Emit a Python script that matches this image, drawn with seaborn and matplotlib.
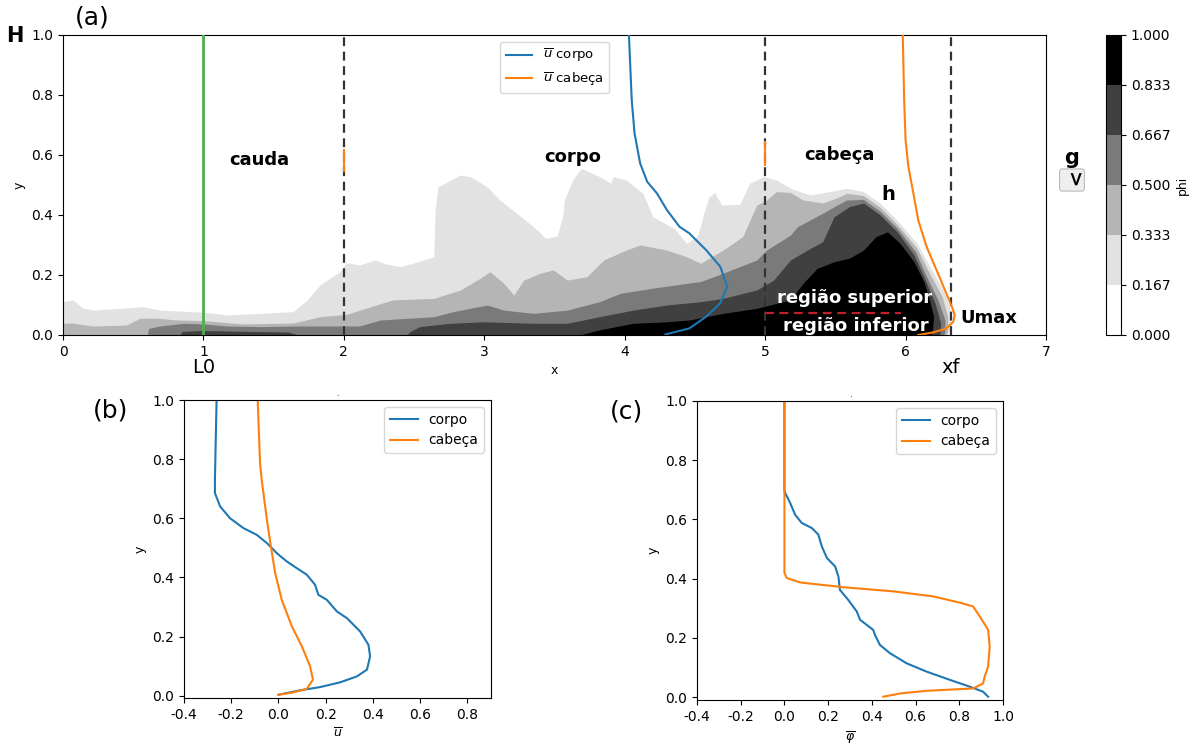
import numpy as np
import matplotlib
matplotlib.use("Agg")
import matplotlib.pyplot as plt
import matplotlib.ticker as mticker
from matplotlib.colors import ListedColormap, BoundaryNorm
from matplotlib.cm import ScalarMappable
import seaborn as sns

# ---------------- data ----------------
phi_levels = [0.0, 1/6, 2/6, 3/6, 4/6, 5/6, 1.0]

# contour boundaries (height of each phi level vs x) in panel (a)
lvl1_x = [0.0, 0.07, 0.14, 0.22, 0.57, 0.69, 1.0, 1.17, 1.40, 1.64, 1.74, 1.83, 1.97, 2.02, 2.11, 2.22, 2.30,
          2.40, 2.49, 2.64, 2.65, 2.67, 2.83, 2.90, 3.02, 3.11, 3.23, 3.35, 3.44, 3.52, 3.56, 3.57, 3.63, 3.69,
          3.82, 3.90, 3.92, 4.01, 4.13, 4.20, 4.35, 4.44, 4.52, 4.56, 4.60, 4.64, 4.69, 4.82, 4.89, 4.99, 5.08,
          5.18, 5.32, 5.46, 5.58, 5.70, 5.82, 5.94, 6.08, 6.20, 6.28, 6.32, 6.32, 6.30]
lvl1_y = [0.111, 0.117, 0.09, 0.083, 0.094, 0.083, 0.076, 0.067, 0.072, 0.078, 0.117, 0.167, 0.211, 0.241, 0.233,
          0.25, 0.237, 0.228, 0.239, 0.261, 0.417, 0.494, 0.533, 0.528, 0.494, 0.45, 0.406, 0.361, 0.322, 0.33,
          0.40, 0.45, 0.517, 0.556, 0.528, 0.506, 0.528, 0.517, 0.472, 0.394, 0.356, 0.306, 0.33, 0.40, 0.46,
          0.475, 0.433, 0.436, 0.506, 0.528, 0.517, 0.489, 0.467, 0.478, 0.489, 0.478, 0.439, 0.383, 0.306,
          0.206, 0.139, 0.083, 0.028, 0.0]

lvl2_x = [0.0, 0.07, 0.21, 0.45, 0.55, 0.67, 0.81, 1.0, 1.28, 1.64, 1.83, 2.02, 2.23, 2.35, 2.47, 2.64, 2.83,
          2.97, 3.04, 3.14, 3.21, 3.28, 3.40, 3.49, 3.59, 3.73, 3.85, 4.01, 4.11, 4.30, 4.44, 4.54, 4.70, 4.84,
          4.94, 5.01, 5.08, 5.18, 5.27, 5.41, 5.50, 5.58, 5.70, 5.82, 5.94, 6.08, 6.17, 6.26, 6.30, 6.30, 6.29]
lvl2_y = [0.039, 0.04, 0.03, 0.033, 0.056, 0.056, 0.05, 0.048, 0.037, 0.04, 0.061, 0.069, 0.10, 0.117, 0.119,
          0.122, 0.15, 0.189, 0.211, 0.172, 0.133, 0.183, 0.206, 0.217, 0.183, 0.194, 0.25, 0.283, 0.30, 0.283,
          0.261, 0.239, 0.283, 0.328, 0.433, 0.45, 0.478, 0.475, 0.45, 0.44, 0.455, 0.472, 0.465, 0.425, 0.368,
          0.29, 0.206, 0.128, 0.061, 0.017, 0.0]

lvl3_x = [0.60, 0.61, 0.69, 0.86, 1.0, 1.17, 1.40, 1.64, 1.88, 2.11, 2.26, 2.47, 2.64, 2.78, 3.02, 3.14, 3.35,
          3.59, 3.82, 3.97, 4.20, 4.44, 4.54, 4.70, 4.94, 5.01, 5.18, 5.23, 5.41, 5.50, 5.58, 5.70, 5.82, 5.94,
          6.07, 6.15, 6.23, 6.28, 6.28, 6.27]
lvl3_y = [0.0, 0.022, 0.03, 0.039, 0.037, 0.03, 0.028, 0.03, 0.03, 0.03, 0.05, 0.056, 0.061, 0.078, 0.10, 0.083,
          0.072, 0.083, 0.111, 0.139, 0.156, 0.172, 0.178, 0.206, 0.25, 0.283, 0.333, 0.361, 0.406, 0.43, 0.45,
          0.452, 0.412, 0.356, 0.278, 0.194, 0.117, 0.05, 0.011, 0.0]

lvl4_x = [0.83, 0.85, 1.0, 1.30, 1.60, 1.68, 2.45, 2.47, 2.54, 2.76, 2.99, 3.35, 3.59, 3.82, 4.06, 4.30, 4.54,
          4.70, 4.94, 5.06, 5.18, 5.30, 5.41, 5.49, 5.60, 5.70, 5.82, 5.94, 6.06, 6.14, 6.21, 6.25, 6.245]
lvl4_y = [0.0, 0.012, 0.015, 0.012, 0.01, 0.0, 0.0, 0.011, 0.028, 0.039, 0.044, 0.039, 0.039, 0.061, 0.083, 0.10,
          0.111, 0.122, 0.15, 0.183, 0.25, 0.283, 0.311, 0.394, 0.428, 0.44, 0.40, 0.344, 0.267, 0.183, 0.106,
          0.039, 0.0]

lvl5_x = [3.68, 3.82, 4.06, 4.30, 4.46, 4.70, 4.94, 5.18, 5.27, 5.37, 5.49, 5.60, 5.70, 5.79, 5.87, 5.96, 6.06,
          6.13, 6.17, 6.20, 6.19, 6.18]
lvl5_y = [0.0, 0.017, 0.039, 0.044, 0.05, 0.072, 0.089, 0.117, 0.172, 0.222, 0.244, 0.256, 0.283, 0.328, 0.344,
          0.306, 0.244, 0.178, 0.117, 0.061, 0.011, 0.0]

# mean velocity profiles drawn over panel (a)
a_corpo_x = [4.03, 4.05, 4.07, 4.11, 4.16, 4.23, 4.30, 4.39, 4.46, 4.58, 4.68, 4.73, 4.68, 4.58, 4.46, 4.29]
a_corpo_y = [1.0, 0.783, 0.672, 0.572, 0.511, 0.472, 0.417, 0.361, 0.339, 0.283, 0.228, 0.161, 0.106, 0.061,
             0.022, 0.002]
a_cabeca_x = [5.98, 5.99, 6.00, 6.02, 6.06, 6.09, 6.15, 6.22, 6.29, 6.33, 6.35, 6.34, 6.29, 6.20, 6.09]
a_cabeca_y = [1.0, 0.783, 0.65, 0.561, 0.461, 0.383, 0.294, 0.217, 0.139, 0.094, 0.067, 0.044, 0.022, 0.009, 0.0]

# panel (b): mean velocity
b_corpo_u = [-0.262, -0.266, -0.269, -0.269, -0.247, -0.205, -0.149, -0.092, -0.049, -0.007, 0.035, 0.078, 0.12,
             0.155, 0.169, 0.205, 0.247, 0.29, 0.346, 0.381, 0.388, 0.375, 0.332, 0.261, 0.177, 0.092, 0.0]
b_corpo_y = [1.0, 0.85, 0.73, 0.685, 0.64, 0.60, 0.567, 0.544, 0.516, 0.482, 0.454, 0.431, 0.409, 0.375, 0.341,
             0.324, 0.285, 0.262, 0.217, 0.172, 0.133, 0.088, 0.065, 0.045, 0.029, 0.018, 0.003]
b_cabeca_u = [-0.088, -0.078, -0.071, -0.049, -0.032, -0.014, 0.014, 0.057, 0.099, 0.134, 0.146, 0.12, 0.063, 0.0]
b_cabeca_y = [1.0, 0.786, 0.73, 0.595, 0.504, 0.415, 0.324, 0.234, 0.167, 0.099, 0.054, 0.023, 0.011, 0.003]

# panel (c): mean concentration
c_corpo_phi = [0.0, 0.0, 0.003, 0.026, 0.049, 0.079, 0.125, 0.155, 0.171, 0.194, 0.232, 0.247, 0.254, 0.292,
               0.331, 0.346, 0.406, 0.414, 0.437, 0.483, 0.559, 0.65, 0.757, 0.848, 0.909, 0.932]
c_corpo_y = [1.0, 0.70, 0.69, 0.656, 0.616, 0.588, 0.571, 0.549, 0.509, 0.47, 0.441, 0.407, 0.362, 0.328, 0.289,
             0.261, 0.227, 0.21, 0.176, 0.148, 0.114, 0.086, 0.058, 0.035, 0.018, 0.001]
c_cabeca_phi = [0.0, 0.0, 0.011, 0.072, 0.269, 0.498, 0.68, 0.802, 0.863, 0.894, 0.932, 0.939, 0.932, 0.916,
                0.909, 0.863, 0.65, 0.528, 0.452]
c_cabeca_y = [1.0, 0.419, 0.402, 0.387, 0.371, 0.357, 0.34, 0.319, 0.306, 0.272, 0.227, 0.17, 0.103, 0.069,
              0.046, 0.029, 0.021, 0.012, 0.001]

# ---------------- figure ----------------
W, H = 1194, 744
fig = plt.figure(figsize=(W / 100, H / 100), dpi=100)
blue, orange = "#1f77b4", "#ff7f0e"

axA = fig.add_axes([63 / W, 1 - 335 / H, 983 / W, 300 / H])
cax = fig.add_axes([1106 / W, 1 - 335 / H, 15 / W, 300 / H])
axB = fig.add_axes([184 / W, 1 - 698 / H, 307 / W, 298 / H])
axC = fig.add_axes([697 / W, 1 - 700 / H, 306 / W, 299 / H])

band_colors = plt.get_cmap("Greys")(np.linspace(0, 1, 6))
cmap = ListedColormap(band_colors)
norm = BoundaryNorm(phi_levels, cmap.N)

for k, (lx, ly) in enumerate([(lvl1_x, lvl1_y), (lvl2_x, lvl2_y), (lvl3_x, lvl3_y),
                              (lvl4_x, lvl4_y), (lvl5_x, lvl5_y)]):
    axA.fill_between(lx, 0, ly, color=band_colors[k + 1], linewidth=0, zorder=1)

axA.axvline(1, color="#4daf4a", lw=2, zorder=3)
for xv in (2, 5, 6.32):
    axA.axvline(xv, color="#333333", lw=1.6, ls=(0, (4, 2.5)), zorder=3)
axA.plot([2, 2], [0.545, 0.617], color=orange, lw=1.5, zorder=3)
axA.plot([5, 5], [0.567, 0.644], color=orange, lw=1.5, zorder=3)
axA.plot([5.0, 5.97], [0.073, 0.073], color="#c0202a", lw=1.6, ls=(0, (4, 2.5)), zorder=4)

sns.lineplot(x=a_corpo_x, y=a_corpo_y, sort=False, estimator=None, color=blue, lw=1.5,
             label=r"$\overline{u}$ corpo", ax=axA, zorder=5)
sns.lineplot(x=a_cabeca_x, y=a_cabeca_y, sort=False, estimator=None, color=orange, lw=1.5,
             label=r"$\overline{u}$ cabeça", ax=axA, zorder=5)
axA.legend(loc="upper center", fontsize=9.5)

axA.set_xlim(0, 7)
axA.set_ylim(0, 1)
axA.set_xticks(range(0, 8))
axA.set_yticks(np.arange(0, 1.01, 0.2))
axA.set_xlabel("x", fontsize=9)
axA.set_ylabel("y", fontsize=9)

bold = dict(fontweight="bold", fontsize=13, ha="center", va="center")
axA.text(1.40, 0.583, "cauda", **bold)
axA.text(3.63, 0.593, "corpo", **bold)
axA.text(5.53, 0.60, "cabeça", **bold)
axA.text(5.88, 0.47, "h", fontweight="bold", fontsize=14, ha="center", va="center")
axA.text(5.64, 0.123, "região superior", color="white", zorder=6, **bold)
axA.text(5.645, 0.03, "região inferior", color="white", zorder=6, **bold)
axA.text(6.39, 0.057, "Umax", fontweight="bold", fontsize=13, ha="left", va="center")
axA.text(1.0, -0.11, "L0", fontsize=14, ha="center", va="center", transform=axA.get_xaxis_transform())
axA.text(6.32, -0.11, "xf", fontsize=14, ha="center", va="center", transform=axA.get_xaxis_transform())

cb = fig.colorbar(ScalarMappable(norm=norm, cmap=cmap), cax=cax, ticks=phi_levels, format="%.3f")
cb.outline.set_edgecolor("black")
cb.set_label("phi", fontsize=9)

fig.text(92 / W, 1 - 18 / H, "(a)", fontsize=18, ha="center", va="center")
fig.text(15 / W, 1 - 36 / H, "H", fontsize=15, fontweight="bold", ha="center", va="center")
fig.text(1072 / W, 1 - 158 / H, "g", fontsize=15, fontweight="bold", ha="center", va="center")
fig.text(1072 / W, 1 - 180 / H, ">", fontsize=14, fontweight="bold", rotation=-90, ha="center", va="center",
         bbox=dict(boxstyle="round,pad=0.15", facecolor="#eeeeee", edgecolor="#bbbbbb", lw=0.8))
fig.text(111 / W, 1 - 411 / H, "(b)", fontsize=18, ha="center", va="center")
fig.text(627 / W, 1 - 412 / H, "(c)", fontsize=18, ha="center", va="center")

# panel (b)
sns.lineplot(x=b_corpo_u, y=b_corpo_y, sort=False, estimator=None, color=blue, lw=1.5, label="corpo", ax=axB)
sns.lineplot(x=b_cabeca_u, y=b_cabeca_y, sort=False, estimator=None, color=orange, lw=1.5, label="cabeça", ax=axB)
axB.set_xlim(-0.4, 0.9)
axB.set_ylim(-0.008, 1.0)
axB.set_xticks(np.arange(-0.4, 0.81, 0.2))
axB.set_yticks(np.arange(0, 1.01, 0.2))
axB.set_xlabel(r"$\overline{u}$", fontsize=9)
axB.set_ylabel("y", fontsize=9)
axB.set_title(".", fontsize=6, pad=3)
axB.legend(loc="upper right")

# panel (c)
sns.lineplot(x=c_corpo_phi, y=c_corpo_y, sort=False, estimator=None, color=blue, lw=1.5, label="corpo", ax=axC)
sns.lineplot(x=c_cabeca_phi, y=c_cabeca_y, sort=False, estimator=None, color=orange, lw=1.5, label="cabeça", ax=axC)
axC.set_xlim(-0.4, 1.0)
axC.set_ylim(-0.01, 1.0)
axC.set_xticks(np.arange(-0.4, 1.01, 0.2))
axC.set_yticks(np.arange(0, 1.01, 0.2))
axC.set_xlabel(r"$\overline{\varphi}$", fontsize=9)
axC.set_ylabel("y", fontsize=9)
axC.set_title(".", fontsize=6, pad=3)
axC.legend(loc="upper right")

for ax in (axB, axC):
    ax.xaxis.set_major_formatter(mticker.FormatStrFormatter("%.1f"))
    ax.yaxis.set_major_formatter(mticker.FormatStrFormatter("%.1f"))
axA.yaxis.set_major_formatter(mticker.FormatStrFormatter("%.1f"))

fig.savefig("out.png", dpi=100)
